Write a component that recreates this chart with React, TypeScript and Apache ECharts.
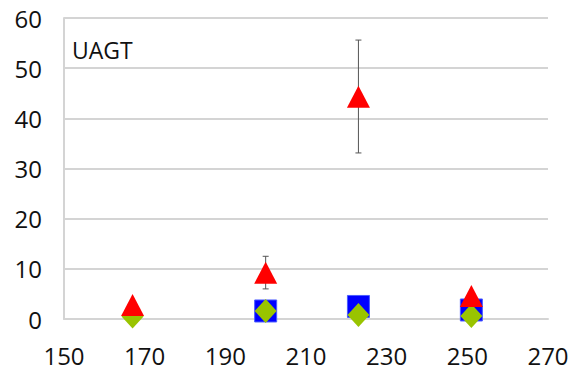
import React, { useEffect, useRef } from "react";
import * as echarts from "echarts";

const triX = [167, 200, 223, 251];
const triY = [2.8, 9.2, 44.3, 4.6];
const triErrLow = [2.8, 6.0, 33.1, 4.6];
const triErrHigh = [2.8, 12.5, 55.6, 4.6];
const sqX = [200, 223, 251];
const sqY = [1.6, 2.5, 1.8];
const diaX = [167, 200, 223, 251];
const diaY = [0.5, 1.6, 0.8, 0.6];
const xTicks = [150, 170, 190, 210, 230, 250, 270];
const yTicks = [0, 10, 20, 30, 40, 50, 60];
const panelLabel = "UAGT";

const FONT = "'Open Sans', 'Noto Sans', sans-serif";

export default function App() {
  const ref = useRef<HTMLDivElement>(null);
  useEffect(() => {
    if (!ref.current) return;
    const chart = echarts.init(ref.current, undefined, { renderer: "svg" });
    const errData = triX.map((x, i) => [x, triErrLow[i], triErrHigh[i]]);
    chart.setOption({
      animation: false,
      backgroundColor: "#ffffff",
      grid: { left: 64, right: 37, top: 18, bottom: 66, containLabel: false },
      xAxis: {
        type: "value",
        min: xTicks[0],
        max: xTicks[xTicks.length - 1],
        interval: 20,
        axisLine: { show: true, lineStyle: { color: "#d4d4d4", width: 2 } },
        axisTick: { show: false },
        splitLine: { show: false },
        axisLabel: { color: "#111111", fontSize: 24, fontFamily: FONT, margin: 24 },
      },
      yAxis: {
        type: "value",
        min: yTicks[0],
        max: yTicks[yTicks.length - 1],
        interval: 10,
        axisLine: { show: true, lineStyle: { color: "#d4d4d4", width: 2 } },
        axisTick: { show: false },
        splitLine: { show: true, lineStyle: { color: "#d4d4d4", width: 2 } },
        axisLabel: { color: "#111111", fontSize: 24, fontFamily: FONT, margin: 22 },
      },
      graphic: [
        {
          type: "text",
          left: 72,
          top: 38,
          style: { text: panelLabel, fontSize: 23, fontFamily: FONT, fill: "#111111" },
        },
      ],
      series: [
        {
          type: "scatter",
          name: "square",
          symbol: "rect",
          symbolSize: 22,
          itemStyle: { color: "#0000ff", borderColor: "#4a5cff", borderWidth: 1, opacity: 1 },
          data: sqX.map((x, i) => [x, sqY[i]]),
          z: 2,
        },
        {
          type: "scatter",
          name: "diamond",
          symbol: "diamond",
          symbolSize: [22, 24],
          itemStyle: { color: "#99c400", opacity: 1 },
          data: diaX.map((x, i) => [x, diaY[i]]),
          z: 3,
        },
        {
          type: "custom",
          name: "err",
          z: 4,
          data: errData,
          renderItem: (params: any, api: any) => {
            const x = api.value(0);
            const lo = api.coord([x, api.value(1)]);
            const hi = api.coord([x, api.value(2)]);
            const cap = 3;
            const style = { stroke: "#555555", lineWidth: 1 };
            return {
              type: "group",
              children: [
                { type: "line", shape: { x1: lo[0], y1: lo[1], x2: hi[0], y2: hi[1] }, style },
                { type: "line", shape: { x1: lo[0] - cap, y1: lo[1], x2: lo[0] + cap, y2: lo[1] }, style },
                { type: "line", shape: { x1: hi[0] - cap, y1: hi[1], x2: hi[0] + cap, y2: hi[1] }, style },
              ],
            };
          },
        },
        {
          type: "scatter",
          name: "triangle",
          symbol: "triangle",
          symbolSize: [23, 22],
          itemStyle: { color: "#ff0000", opacity: 1 },
          data: triX.map((x, i) => [x, triY[i]]),
          z: 5,
        },
      ],
    });
    return () => chart.dispose();
  }, []);
  return (
    <div
      ref={ref}
      style={{ position: "fixed", left: 0, top: 0, width: 585, height: 385 }}
    />
  );
}
